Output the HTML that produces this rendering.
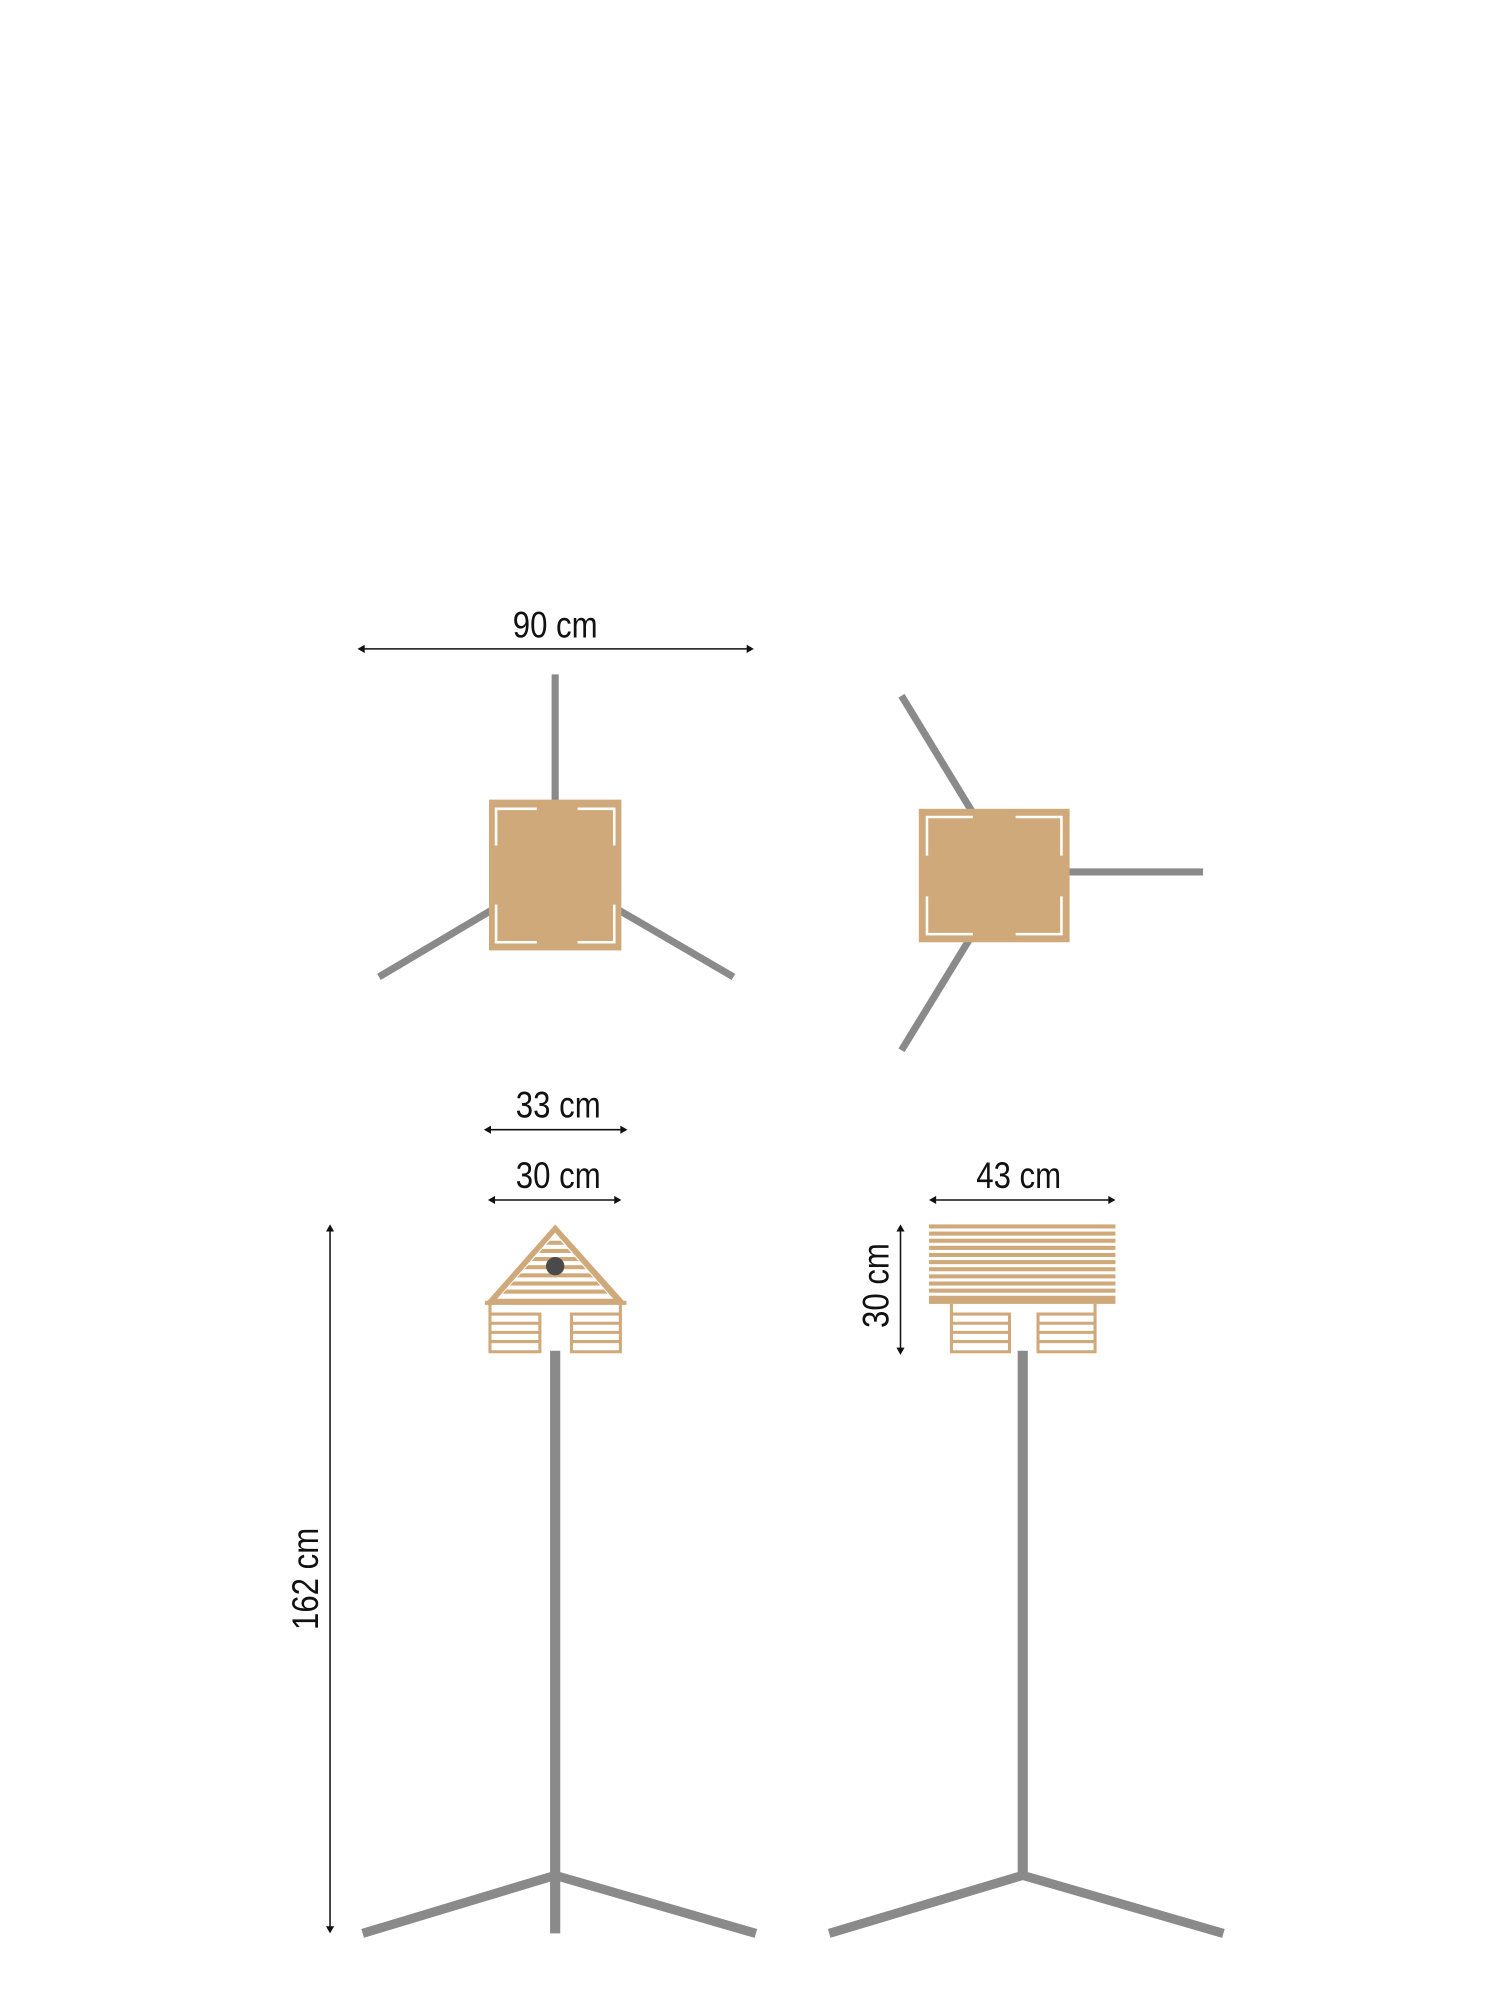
<!DOCTYPE html>
<html><head><meta charset="utf-8"><style>
html,body{margin:0;padding:0;background:#fff;}
svg{display:block;}
text{font-family:"Liberation Sans Narrow","Liberation Sans",sans-serif;font-size:36px;fill:#111;}
</style></head><body>
<svg width="1500" height="1998" viewBox="0 0 1500 1998" xmlns="http://www.w3.org/2000/svg">
<defs>
<clipPath id="tri"><polygon points="545,1212 490,1274 600,1274"/></clipPath>
</defs>
<g transform="scale(1.01866)">
<g stroke="#111" stroke-width="1.5" fill="#111">
 <line x1="355" y1="637" x2="736" y2="637"/>
 <polygon points="351,637 358,633 358,641" stroke="none"/><polygon points="740,637 733,633 733,641" stroke="none"/>
 <line x1="479" y1="1109" x2="612" y2="1109"/>
 <polygon points="475,1109 482,1105 482,1113" stroke="none"/><polygon points="616,1109 609,1105 609,1113" stroke="none"/>
 <line x1="483" y1="1178" x2="606" y2="1178"/>
 <polygon points="479,1178 486,1174 486,1182" stroke="none"/><polygon points="610,1178 603,1174 603,1182" stroke="none"/>
 <line x1="916" y1="1178" x2="1091" y2="1178"/>
 <polygon points="912,1178 919,1174 919,1182" stroke="none"/><polygon points="1095,1178 1088,1174 1088,1182" stroke="none"/>
 <line x1="324" y1="1206" x2="324" y2="1894"/>
 <polygon points="324,1202 320,1209 328,1209" stroke="none"/><polygon points="324,1898 320,1891 328,1891" stroke="none"/>
 <line x1="884" y1="1206" x2="884" y2="1326"/>
 <polygon points="884,1202 880,1209 888,1209" stroke="none"/><polygon points="884,1330 880,1323 888,1323" stroke="none"/>
</g>
<g>
<text transform="translate(545,626) scale(0.85,1)" text-anchor="middle">90 cm</text>
<text transform="translate(548,1097) scale(0.85,1)" text-anchor="middle">33 cm</text>
<text transform="translate(548,1166) scale(0.85,1)" text-anchor="middle">30 cm</text>
<text transform="translate(1000,1166) scale(0.85,1)" text-anchor="middle">43 cm</text>
<text transform="translate(312,1550) rotate(-90) scale(0.85,1)" text-anchor="middle">162 cm</text>
<text transform="translate(872,1262) rotate(-90) scale(0.85,1)" text-anchor="middle">30 cm</text>
</g>

<g stroke="#8a8a8a" stroke-width="7">
 <line x1="545" y1="662" x2="545" y2="790"/>
 <line x1="485" y1="892" x2="372" y2="959"/>
 <line x1="605" y1="892" x2="720" y2="959"/>
 <line x1="955" y1="798" x2="885" y2="683"/>
 <line x1="1045" y1="856" x2="1181" y2="856"/>
 <line x1="953" y1="920" x2="885" y2="1031"/>
</g>
<g stroke="#8a8a8a" stroke-width="10" fill="none">
 <line x1="545" y1="1326" x2="545" y2="1898"/>
 <line x1="1004" y1="1326" x2="1004" y2="1845"/>
</g>
<g stroke="#8a8a8a" stroke-width="9" fill="none">
 <polyline points="356,1898 545,1841 742,1898"/>
 <polyline points="814,1898 1004,1841 1201,1898"/>
</g>

<rect x="480" y="785" width="130" height="148" fill="#cfa97a"/>
<g stroke="#fff" stroke-width="2.5" fill="none">
 <polyline points="487,830 487,794 527,794"/><polyline points="567,794 603,794 603,830"/>
 <polyline points="487,888 487,925 527,925"/><polyline points="567,925 603,925 603,888"/>
</g>
<rect x="902" y="794" width="148" height="131" fill="#cfa97a"/>
<g stroke="#fff" stroke-width="2.5" fill="none">
 <polyline points="910,840 910,802 955,802"/><polyline points="997,802 1042,802 1042,840"/>
 <polyline points="910,880 910,917 955,917"/><polyline points="997,917 1042,917 1042,880"/>
</g>

<polygon points="545,1202 476,1280 615,1280" fill="#cfa97a"/>
<polygon points="545,1210 488,1275 602,1275" fill="#fff"/>
<g clip-path="url(#tri)" fill="#cfa97a">
 <rect x="480" y="1218" width="140" height="4"/><rect x="480" y="1226" width="140" height="4"/>
 <rect x="480" y="1234" width="140" height="4"/><rect x="480" y="1242" width="140" height="4"/>
 <rect x="480" y="1250" width="140" height="4"/><rect x="480" y="1258" width="140" height="4"/>
 <rect x="480" y="1266" width="140" height="4"/>
</g>
<rect x="476" y="1277" width="139" height="4" fill="#cfa97a"/>
<circle cx="545" cy="1243" r="9" fill="#4a4a4a"/>
<g stroke="#cfa97a" stroke-width="3" fill="none">
 <polyline points="481,1280 481,1327 530,1327 530,1290 481,1290"/>
 <polyline points="609,1280 609,1327 561,1327 561,1290 609,1290"/>
 <line x1="481" y1="1299" x2="530" y2="1299"/><line x1="481" y1="1308" x2="530" y2="1308"/><line x1="481" y1="1317" x2="530" y2="1317"/>
 <line x1="561" y1="1299" x2="609" y2="1299"/><line x1="561" y1="1308" x2="609" y2="1308"/><line x1="561" y1="1317" x2="609" y2="1317"/>
</g>

<g fill="#cfa97a">
 <rect x="912" y="1202" width="183" height="4"/><rect x="912" y="1209" width="183" height="4"/>
 <rect x="912" y="1216" width="183" height="4"/><rect x="912" y="1223" width="183" height="4"/>
 <rect x="912" y="1230" width="183" height="4"/><rect x="912" y="1237" width="183" height="4"/>
 <rect x="912" y="1244" width="183" height="4"/><rect x="912" y="1251" width="183" height="4"/>
 <rect x="912" y="1258" width="183" height="4"/><rect x="912" y="1265" width="183" height="4"/>
 <rect x="912" y="1272" width="183" height="8"/>
</g>
<g stroke="#cfa97a" stroke-width="3" fill="none">
 <polyline points="934,1280 934,1327 991,1327 991,1290 934,1290"/>
 <polyline points="1075,1280 1075,1327 1019,1327 1019,1290 1075,1290"/>
 <line x1="934" y1="1299" x2="991" y2="1299"/><line x1="934" y1="1308" x2="991" y2="1308"/><line x1="934" y1="1317" x2="991" y2="1317"/>
 <line x1="1019" y1="1299" x2="1075" y2="1299"/><line x1="1019" y1="1308" x2="1075" y2="1308"/><line x1="1019" y1="1317" x2="1075" y2="1317"/>
</g>
</g>
</svg>
</body></html>
